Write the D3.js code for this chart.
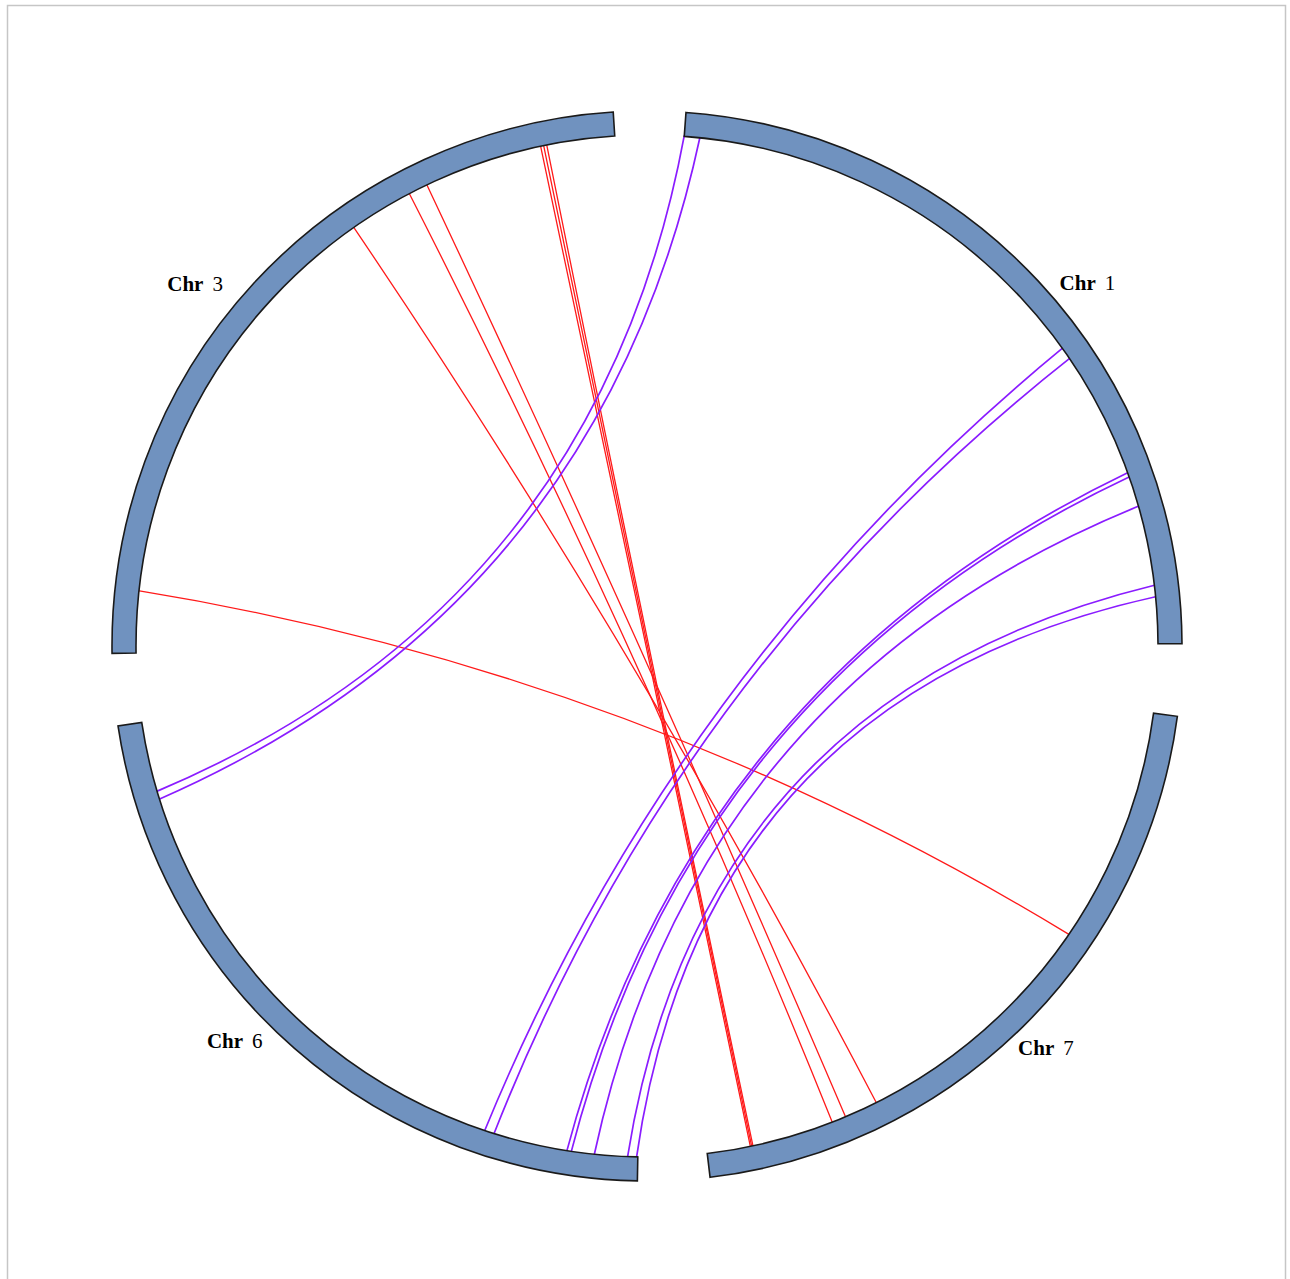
<!DOCTYPE html>
<html>
<head>
<meta charset="utf-8">
<script src="https://cdn.jsdelivr.net/npm/d3@7/dist/d3.min.js"></script>
<style>
  html, body { margin: 0; padding: 0; background: #fff; }
  svg { display: block; }
</style>
</head>
<body>
<script>
// Chromosomes in drawing order (clockwise from the top), lengths in Mb
const chromosomes = ["Chr 1", "Chr 7", "Chr 6", "Chr 3"];
const chromLengths = [85.6, 75.7, 80.4, 87.2];

// Syntenic blocks Chr 1 -> Chr 6 (positions in Mb: [start, end])
const blueSourceChr = ["Chr 1", "Chr 1", "Chr 1", "Chr 1", "Chr 1"];
const blueSource = [[0.0, 1.77], [50.2, 51.6], [66.0, 66.5], [69.95, 69.95], [79.0, 80.3]];
const blueTargetChr = ["Chr 6", "Chr 6", "Chr 6", "Chr 6", "Chr 6"];
const blueTarget = [[71.55, 72.47], [16.4, 17.5], [7.5, 8.0], [4.9, 4.9], [0.15, 1.16]];

// Syntenic blocks Chr 3 -> Chr 7
const redSourceChr = ["Chr 3", "Chr 3", "Chr 3", "Chr 3", "Chr 3"];
const redSource = [[7.0, 7.0], [55.8, 55.8], [63.1, 65.3], [78.8, 79.5], [79.15, 79.15]];
const redTargetChr = ["Chr 7", "Chr 7", "Chr 7", "Chr 7", "Chr 7"];
const redTarget = [[26.8, 26.8], [55.8, 55.8], [59.6, 61.2], [70.5, 70.8], [70.65, 70.65]];

const W = 1290, H = 1279;
const cx = 647, cy = 646;
const rInner = 511, rOuter = 535;
const bezierPurity = 0.22;   // control point = this fraction of the chord midpoint
const gapDeg = 7.8, startDeg = 4.18;
const rad = Math.PI / 180;

const svg = d3.select("body").append("svg")
  .attr("width", W).attr("height", H);

svg.append("rect")
  .attr("x", 7.5).attr("y", 5.5)
  .attr("width", 1278).attr("height", 1290)
  .attr("fill", "#fff")
  .attr("stroke", "#c6c6c6").attr("stroke-width", 1.5);

const g = svg.append("g").attr("transform", `translate(${cx},${cy})`);

// Angular layout of chromosomes
const total = d3.sum(chromLengths);
const degPerMb = (360 - gapDeg * chromosomes.length) / total;
const layout = {};
let cursor = startDeg;
chromosomes.forEach((name, i) => {
  const span = chromLengths[i] * degPerMb;
  layout[name] = {
    name,
    start: cursor,
    end: cursor + span,
    scale: d3.scaleLinear().domain([0, chromLengths[i]]).range([cursor * rad, (cursor + span) * rad])
  };
  cursor += span + gapDeg;
});

// Polar helper: angle measured clockwise from 12 o'clock
const pt = (a, r) => [r * Math.sin(a), -r * Math.cos(a)];

// Link outline: source arc, bezier to target, target arc, bezier back.
// Each bezier's control point is pulled from the centre toward its chord midpoint.
function linkPath(d) {
  const r = rInner + 1;
  const p = d3.path();
  const [x0, y0] = pt(d.s0, r);
  const [x1, y1] = pt(d.s1, r);
  const [tx0, ty0] = pt(d.t0, r);
  const [tx1, ty1] = pt(d.t1, r);
  p.moveTo(x0, y0);
  if (d.s1 !== d.s0) p.arc(0, 0, r, d.s0 - Math.PI / 2, d.s1 - Math.PI / 2);
  p.quadraticCurveTo(bezierPurity * (x1 + tx0) / 2, bezierPurity * (y1 + ty0) / 2, tx0, ty0);
  if (d.t1 !== d.t0) p.arc(0, 0, r, d.t0 - Math.PI / 2, d.t1 - Math.PI / 2);
  p.quadraticCurveTo(bezierPurity * (tx1 + x0) / 2, bezierPurity * (ty1 + y0) / 2, x0, y0);
  return p.toString();
}

function drawLinks(srcChr, src, tgtChr, tgt, color, width) {
  const data = src.map((s, i) => ({
    s0: layout[srcChr[i]].scale(s[0]), s1: layout[srcChr[i]].scale(s[1]),
    t0: layout[tgtChr[i]].scale(tgt[i][0]), t1: layout[tgtChr[i]].scale(tgt[i][1])
  }));
  g.append("g").selectAll("path")
    .data(data)
    .join("path")
    .attr("d", linkPath)
    .attr("fill", "none")
    .attr("stroke", color)
    .attr("stroke-width", width)
    .attr("stroke-linejoin", "round");
}

drawLinks(redSourceChr, redSource, redTargetChr, redTarget, "#ff1a1a", 1.3);
drawLinks(blueSourceChr, blueSource, blueTargetChr, blueTarget, "#8a1cff", 1.7);

// Chromosome bands
const arc = d3.arc().innerRadius(rInner).outerRadius(rOuter);
g.append("g").selectAll("path")
  .data(chromosomes.map(n => layout[n]))
  .join("path")
  .attr("d", d => arc({ startAngle: d.start * rad, endAngle: d.end * rad }))
  .attr("fill", "#7092bf")
  .attr("stroke", "#1a1a1a")
  .attr("stroke-width", 1.6);

// Labels placed outside each band near its middle
const labelNudge = { "Chr 1": 3.5, "Chr 7": -0.2, "Chr 6": 5.0, "Chr 3": -4.1 };
const labelRadius = { "Chr 1": 571, "Chr 7": 566, "Chr 6": 571, "Chr 3": 579 };
const labels = g.append("g").selectAll("text")
  .data(chromosomes.map(n => layout[n]))
  .join("text")
  .attr("transform", d => {
    const a = ((d.start + d.end) / 2 + labelNudge[d.name]) * rad;
    const r = labelRadius[d.name];
    return `translate(${r * Math.sin(a)},${-r * Math.cos(a)})`;
  })
  .attr("text-anchor", "middle")
  .attr("dy", "0.35em")
  .attr("font-family", "'Liberation Serif', 'Times New Roman', serif")
  .attr("font-size", 21)
  .attr("fill", "#000");

labels.append("tspan").attr("font-weight", "bold").text(d => d.name.split(" ")[0]);
labels.append("tspan").attr("dx", 9).text(d => d.name.split(" ")[1]);
</script>
</body>
</html>
